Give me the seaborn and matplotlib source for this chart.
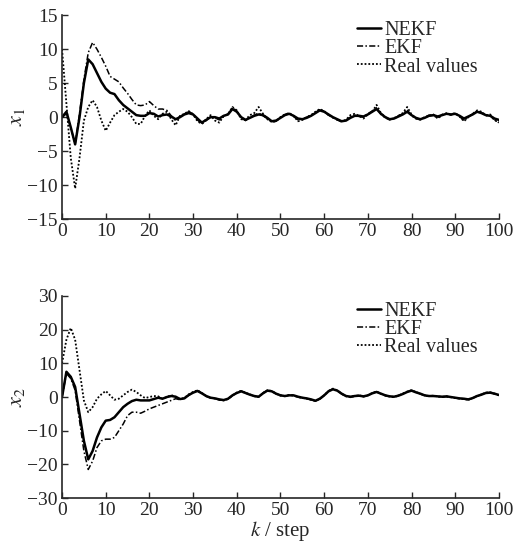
import numpy as np
import pandas as pd
import matplotlib
matplotlib.use('Agg')
import matplotlib.pyplot as plt
import seaborn as sns

sns.set_style('ticks')
plt.rcParams['font.family'] = ['Liberation Serif', 'DejaVu Serif']
plt.rcParams['mathtext.fontset'] = 'stix'
plt.rcParams['axes.unicode_minus'] = True

k = list(range(101))

# x1 curves
x1_nekf = [0, 0.8, -1.5, -4, 0, 5, 8.5, 7.8, 6.5, 5.2,
           4.2, 3.6, 3.4, 2.5, 1.8, 1.3, 0.8, 0.3, 0.2, 0.2,
           0.6, 0.5, 0.1, 0.3, 0.4, 0.1, -0.3, 0, 0.4, 0.6,
           0.4, -0.2, -0.8, -0.4, 0, 0, -0.2, 0.2, 0.4, 1.2,
           0.8, 0, -0.4, -0.1, 0.2, 0.4, 0.3, -0.1, -0.6, -0.5,
           -0.1, 0.3, 0.5, 0.2, -0.2, -0.3, -0.1, 0.2, 0.6, 1.0,
           0.8, 0.4, 0, -0.3, -0.6, -0.5, -0.1, 0.2, 0.2, 0.1,
           0.4, 0.8, 1.2, 0.5, 0, -0.3, -0.2, 0.1, 0.4, 0.8,
           0.3, -0.1, -0.3, -0.1, 0.2, 0.3, 0.1, 0.3, 0.5, 0.4,
           0.5, 0.2, -0.2, 0.1, 0.4, 0.8, 0.6, 0.3, 0.2, -0.2,
           -0.4]
x1_ekf = [0, 0.5, -1.5, -4, 0.5, 5.5, 9.5, 11, 10, 8.8,
          7.5, 6, 5.6, 5.2, 4.3, 3.5, 2.6, 1.8, 1.7, 1.8,
          2.3, 1.7, 1.2, 1.2, 1.0, 0.2, -0.5, 0.1, 0.5, 0.8,
          0.5, -0.4, -1.0, -0.5, 0.1, -0.1, -0.4, 0.1, 0.5, 1.4,
          0.9, -0.1, -0.5, 0, 0.3, 0.6, 0.2, -0.2, -0.7, -0.6,
          0, 0.4, 0.6, 0.1, -0.4, -0.3, 0, 0.3, 0.7, 1.1,
          0.9, 0.3, -0.1, -0.4, -0.7, -0.4, 0, 0.3, 0.1, 0,
          0.5, 0.9, 1.4, 0.4, -0.1, -0.4, -0.1, 0.2, 0.5, 1.1,
          0.2, -0.2, -0.4, 0, 0.3, 0.2, -0.1, 0.4, 0.6, 0.3,
          0.6, 0.1, -0.5, 0, 0.5, 0.9, 0.7, 0.2, 0.3, -0.5,
          -0.7]
x1_real = [10, 2, -6, -10.5, -6, -0.5, 1.5, 2.5, 1.5, -0.5,
           -2, -0.8, 0.3, 0.8, 1.2, 0.8, 0, -1, -1, 0.2,
           1.0, 0.2, -0.3, 0.5, 0.8, -0.3, -1.2, 0.2, 0.5, 0.9,
           0.4, -0.6, -1.0, -0.3, 0.3, -0.5, -0.8, 0.2, 0.4, 1.5,
           1.0, -0.3, -0.4, 0.3, 0.6, 1.5, 0.5, -0.3, -0.7, -0.6,
           0, 0.4, 0.6, 0.2, -0.6, -0.4, 0, 0.3, 0.8, 1.2,
           0.9, 0.3, 0, -0.4, -0.6, -0.4, 0.3, 0.5, 0.2, -0.2,
           0.4, 0.8, 1.8, 0.6, 0, -0.3, -0.2, 0.2, 0.6, 1.5,
           0.4, -0.2, -0.3, 0, 0.2, 0.4, -0.2, 0.3, 0.5, 0.4,
           0.6, 0.1, -0.6, 0, 0.5, 1.0, 0.8, 0.3, 0.4, -0.4,
           -0.8]

# x2 curves
x2_nekf = [0, 7.5, 6, 3, -5, -13, -18.5, -16, -12, -9,
           -7, -6.8, -6, -4.5, -3, -2, -1.2, -0.8, -1, -1,
           -1, -0.6, -0.2, -0.5, 0, 0.3, 0.1, -0.6, -0.4, 0.6,
           1.3, 1.8, 1.1, 0.3, -0.2, -0.4, -0.7, -0.9, -0.5, 0.5,
           1.2, 1.7, 1.2, 0.7, 0.3, 0.1, 1.1, 1.9, 1.7, 1.0,
           0.5, 0.3, 0.5, 0.5, 0.1, -0.2, -0.4, -0.7, -1.1, -0.5,
           0.5, 1.7, 2.3, 1.9, 1.0, 0.3, 0.1, 0.3, 0.4, 0.2,
           0.5, 1.1, 1.5, 1.0, 0.5, 0.2, 0.1, 0.4, 0.9, 1.5,
           1.9, 1.4, 1.0, 0.5, 0.3, 0.3, 0.2, 0.1, 0.2, 0,
           -0.2, -0.4, -0.5, -0.7, -0.3, 0.3, 0.7, 1.2, 1.3, 1.0,
           0.6]
x2_ekf = [0, 7, 5.5, 2, -7, -16, -21.5, -19, -15, -13,
          -12.5, -12.5, -12, -10, -8, -5.5, -4.5, -4.5, -4.8, -4.2,
          -3.5, -3, -2.5, -2, -1.5, -1, -0.5, -0.8, -0.2, 0.5,
          1.4, 1.9, 1.2, 0.2, -0.3, -0.5, -0.9, -1.0, -0.6, 0.4,
          1.3, 1.8, 1.3, 0.8, 0.2, 0, 1.2, 2.0, 1.8, 0.9,
          0.4, 0.2, 0.6, 0.4, 0, -0.3, -0.5, -0.8, -1.2, -0.6,
          0.4, 1.8, 2.4, 2.0, 0.9, 0.2, -0.1, 0.3, 0.5, 0.1,
          0.4, 1.2, 1.6, 0.9, 0.4, 0.1, 0, 0.5, 1.0, 1.6,
          2.0, 1.5, 0.9, 0.4, 0.2, 0.4, 0.1, 0, 0.1, -0.1,
          -0.3, -0.5, -0.6, -0.8, -0.4, 0.2, 0.8, 1.3, 1.4, 0.9,
          0.5]
x2_real = [10, 17, 20.5, 17, 8, -1, -4.5, -3, -0.5, 0.8,
           1.8, 0.5, -0.8, -0.5, 0.5, 1.5, 2.2, 1.5, 0.5, -0.3,
           0, 0.3, 0.2, -0.5, 0, 0.6, 0, -0.6, -0.3, 0.8,
           1.5, 2.0, 1.2, 0.3, -0.2, -0.4, -0.8, -1.0, -0.6, 0.5,
           1.3, 1.8, 1.2, 0.8, 0.3, 0, 1.2, 2.0, 1.8, 1.0,
           0.5, 0.3, 0.6, 0.5, 0, -0.2, -0.5, -0.8, -1.2, -0.6,
           0.5, 1.8, 2.5, 2.0, 1.0, 0.3, 0, 0.3, 0.5, 0.2,
           0.5, 1.2, 1.6, 1.0, 0.5, 0.2, 0, 0.4, 1.0, 1.6,
           2.0, 1.5, 1.0, 0.5, 0.3, 0.4, 0.2, 0, 0.2, 0,
           -0.3, -0.4, -0.6, -0.8, -0.3, 0.3, 0.8, 1.3, 1.4, 1.0,
           0.6]

labels = ['NEKF', 'EKF', 'Real values']
styles = {'NEKF': dict(linestyle='-', lw=1.8),
          'EKF': dict(linestyle=(0, (4, 1.5, 1, 1.5)), lw=1.1),
          'Real values': dict(linestyle=(0, (1, 1.1)), lw=1.3)}

fig = plt.figure(figsize=(5.17, 5.45), dpi=100)
ax1 = fig.add_axes([0.12, 0.598, 0.845, 0.374])
ax2 = fig.add_axes([0.12, 0.086, 0.845, 0.371])

for ax, series, ylab, ylim, yt in [
        (ax1, [x1_nekf, x1_ekf, x1_real], r'$x_1$', (-15, 15), np.arange(-15, 16, 5)),
        (ax2, [x2_nekf, x2_ekf, x2_real], r'$x_2$', (-30, 30), np.arange(-30, 31, 10))]:
    for name, vals in zip(labels, series):
        df = pd.DataFrame({'k': k, 'v': vals})
        sns.lineplot(data=df, x='k', y='v', ax=ax, color='black', label=name,
                     **styles[name])
    ax.set_xlim(0, 100)
    ax.set_ylim(*ylim)
    ax.set_xticks(np.arange(0, 101, 10))
    ax.set_yticks(yt)
    ax.set_ylabel(ylab, fontsize=16, labelpad=0)
    ax.set_xlabel('')
    ax.tick_params(direction='in', length=4, width=1, labelsize=14, pad=3)
    for s in ['top', 'right']:
        ax.spines[s].set_visible(False)
    for s in ['left', 'bottom']:
        ax.spines[s].set_linewidth(1.2)
    ax.legend(loc='upper right', bbox_to_anchor=(0.975, 1.02), frameon=False,
              fontsize=14.5, handlelength=1.2, handletextpad=0.15,
              labelspacing=-0.05, borderpad=0)

ax2.set_xlabel(r'$k$ / step', fontsize=15, labelpad=0)

fig.savefig('out.png', dpi=100)
